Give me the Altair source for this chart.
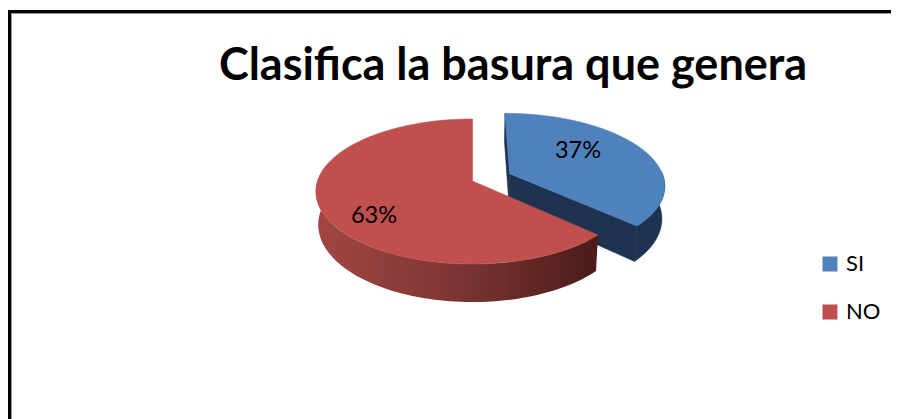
import math
import altair as alt
import pandas as pd

# ---- values
categories = ["SI", "NO"]
shares = [37, 63]
title_text = "Clasifica la basura que genera"

# ---- pie geometry (perspective projection of a tilted disc)
CX, CY = 472.5, 181
RX, RY, K = 155, 71, 0.145
DEPTH, SHRINK = 32.5, 0.985
EXPLODE = 0.265
W, H = 883, 411
cut = shares[0] / sum(shares) * 360
bis = math.radians(cut / 2)
OFF = (EXPLODE * math.sin(bis), EXPLODE * math.cos(bis))


def top(X, Y):
    w = 1 + K * Y
    return CX + RX * X / w, CY - RY * Y / w


def bottom(X, Y):
    x, y = top(X, Y)
    return CX + (x - CX) * SHRINK, y + DEPTH / (1 + K * Y)


def rim(a0, a1, off=(0, 0), n=90):
    out = []
    for i in range(n + 1):
        a = math.radians(a0 + (a1 - a0) * i / n)
        out.append((math.sin(a) + off[0], math.cos(a) + off[1]))
    return out


def shape(pts, **kw):
    df = pd.DataFrame({"x": [p[0] for p in pts], "y": [p[1] for p in pts], "i": range(len(pts))})
    return alt.Chart(df).mark_line(interpolate="linear-closed", **kw).encode(
        x=alt.X("x:Q", scale=alt.Scale(domain=[8, 8 + W], nice=False, zero=False), axis=None),
        y=alt.Y("y:Q", scale=alt.Scale(domain=[8 + H, 8], nice=False, zero=False), axis=None),
        order="i:Q",
    )


def wall(plane_pts, fill, stroke=None):
    pts = [top(*p) for p in plane_pts] + [bottom(*p) for p in reversed(plane_pts)]
    if stroke:
        return shape(pts, fill=fill, stroke=stroke, strokeWidth=0.6)
    return shape(pts, fill=fill, strokeWidth=0, strokeOpacity=0)


def face(plane_pts, fill):
    return shape([top(*p) for p in plane_pts], fill=fill, stroke=fill, strokeWidth=0.6)


BLUE, RED = "#4F81BD", "#C0504D"
BLUE_DK = "#1D3350"
red_grad = alt.Gradient(
    gradient="linear", x1=0, x2=1, y1=0, y2=0,
    stops=[alt.GradientStop(offset=0, color="#A24643"),
           alt.GradientStop(offset=0.5, color="#7C3533"),
           alt.GradientStop(offset=1, color="#4A1B19")],
)
edge0 = rim(0, 0, OFF, 1)[0]
edge1 = rim(cut, cut, OFF, 1)[0]

layers = [
    # exploded SI slice: walls then top
    wall([edge0, OFF], BLUE_DK, BLUE_DK),
    wall(rim(88, cut, OFF, 40), BLUE_DK, BLUE_DK),
    wall([OFF, edge1], BLUE_DK, BLUE_DK),
    face([OFF] + rim(0, cut, OFF), BLUE),
    # NO slice: wall then top
    wall(rim(cut, 285), red_grad),
    face([(0, 0)] + rim(cut, 360), RED),
]

# percentage labels
lab_df = pd.DataFrame({"t": [f"{v}%" for v in shares], "c": categories})
label_x = {"SI": 570, "NO": 366}
label_y = {"SI": 143, "NO": 208}
for c in categories:
    layers.append(
        alt.Chart(lab_df[lab_df.c == c]).mark_text(
            font="Lato", fontSize=23.5, color="black", align="center", baseline="middle"
        ).encode(text="t:N", x=alt.value(label_x[c]), y=alt.value(label_y[c]))
    )

# legend carrier
leg_df = pd.DataFrame({"c": categories})
layers.append(
    alt.Chart(leg_df).mark_square(size=0).encode(
        x=alt.value(0), y=alt.value(0),
        color=alt.Color(
            "c:N",
            scale=alt.Scale(domain=categories, range=[BLUE, RED]),
            legend=alt.Legend(
                orient="none", legendX=811, legendY=245, title=None,
                symbolType="square", symbolSize=225, symbolStrokeWidth=0, symbolOpacity=1,
                labelFont="Lato", labelFontSize=22, labelColor="black", labelOffset=5,
                rowPadding=26,
            ),
        ),
    )
)

# frame
layers += [
    alt.Chart(leg_df).mark_rect(color="#999999").encode(x=alt.value(3), x2=alt.value(4), y=alt.value(5), y2=alt.value(H)),
    alt.Chart(leg_df).mark_rect(color="#999999").encode(x=alt.value(3), x2=alt.value(W), y=alt.value(5), y2=alt.value(6)),
    alt.Chart(leg_df).mark_rect(color="black").encode(x=alt.value(0), x2=alt.value(3), y=alt.value(2), y2=alt.value(H)),
    alt.Chart(leg_df).mark_rect(color="black").encode(x=alt.value(0), x2=alt.value(W), y=alt.value(2), y2=alt.value(5)),
]

chart = (
    alt.layer(*layers)
    .properties(
        width=W,
        height=H,
        padding=0,
        background="white",
        autosize=alt.AutoSizeParams(type="none"),
        title=alt.TitleParams(
            title_text, font="Lato", fontSize=45, fontWeight="bold", color="black",
            anchor="middle", dx=63.5, dy=81, offset=0,
        ),
    )
    .configure_view(stroke=None)
)
chart.save("out.html", embed_options={"renderer": "svg", "actions": False})
